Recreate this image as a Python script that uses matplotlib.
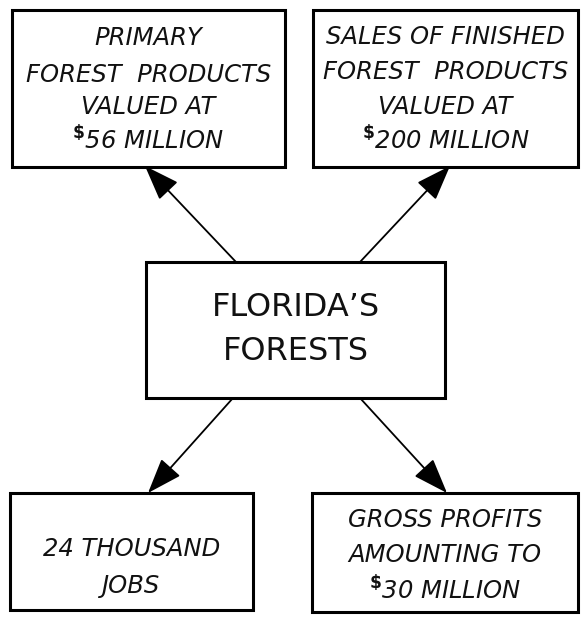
import matplotlib.pyplot as plt
from matplotlib.patches import Rectangle, FancyArrowPatch

# box texts (one list of lines per box)
center_lines = ["FLORIDA\u2019S", "FORESTS"]
top_left_lines = ["PRIMARY", "FOREST  PRODUCTS", "VALUED AT", r"$^{\mathbf{\$}}$56 MILLION"]
top_right_lines = ["SALES OF FINISHED", "FOREST  PRODUCTS", "VALUED AT", r"$^{\mathbf{\$}}$200 MILLION"]
bottom_left_lines = ["24 THOUSAND", "JOBS"]
bottom_right_lines = ["GROSS PROFITS", "AMOUNTING TO", r"$^{\mathbf{\$}}$30 MILLION"]

plt.rcParams['mathtext.fontset'] = 'dejavusans'

fig = plt.figure(figsize=(5.86, 6.17), dpi=100)
ax = fig.add_axes([0, 0, 1, 1])
ax.set_xlim(0, 586)
ax.set_ylim(617, 0)
ax.axis('off')


def box(x0, y0, x1, y1, lines, line_y, size=17.5, style='italic'):
    ax.add_patch(Rectangle((x0, y0), x1 - x0, y1 - y0, fill=False,
                           edgecolor='black', linewidth=2.2))
    cx = (x0 + x1) / 2
    for txt, y in zip(lines, line_y):
        ax.text(cx, y, txt, ha='center', va='center', fontsize=size,
                fontstyle=style, family='DejaVu Sans', color='#111111')


box(12, 10, 285, 167, top_left_lines, [38, 75, 107, 140])
box(313, 10, 578, 167, top_right_lines, [37, 72, 107, 140])
box(146, 262, 445, 398, center_lines, [308, 352], size=23, style='normal')
box(10, 493, 253, 610, bottom_left_lines, [549, 586])
box(312, 493, 578, 612, bottom_right_lines, [520, 555, 590])

arrows = [((236, 262), (145, 166)),
          ((360, 262), (450, 166)),
          ((233, 398), (148, 493)),
          ((360, 398), (447, 493))]
for start, end in arrows:
    ax.add_patch(FancyArrowPatch(start, end, arrowstyle='-|>,head_length=22,head_width=8',
                                 color='black', linewidth=1.3, mutation_scale=1,
                                 shrinkA=0, shrinkB=0))

plt.savefig('out.png', dpi=100)
plt.close()
